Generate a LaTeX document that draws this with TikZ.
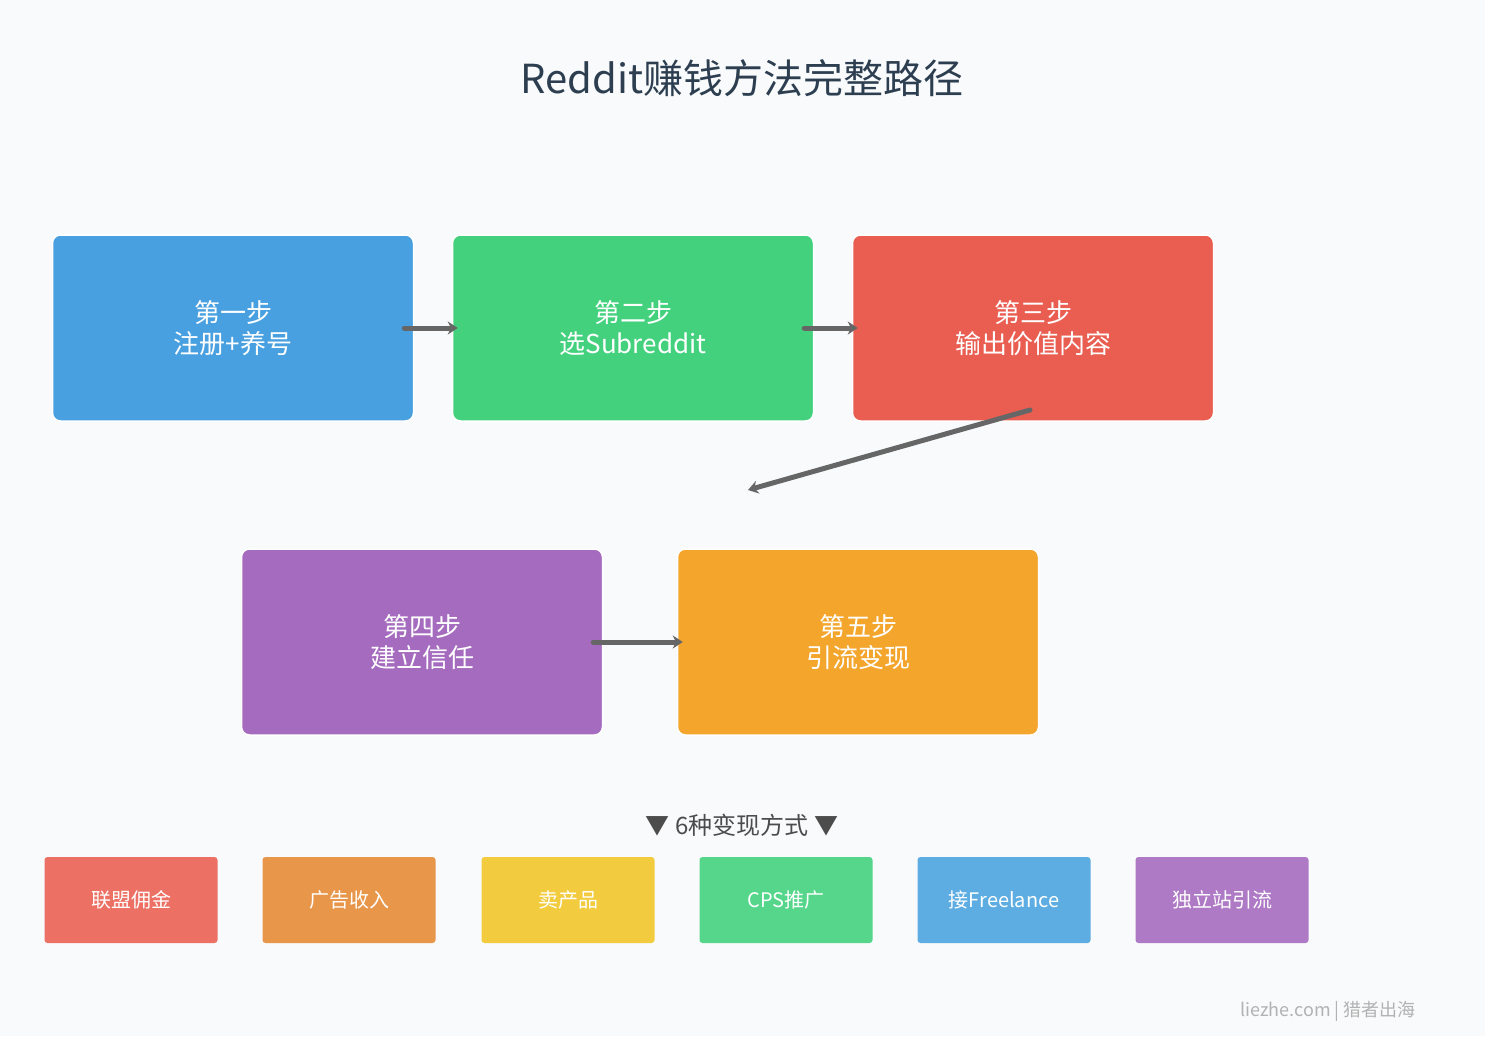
\documentclass[tikz,border=0pt]{standalone}
\usepackage{fontspec}
\setmainfont{Noto Sans CJK SC}
\usetikzlibrary{arrows.meta}
\definecolor{bg}{HTML}{F8FAFB}
\definecolor{c1}{HTML}{48A0E0}
\definecolor{c2}{HTML}{44D17E}
\definecolor{c3}{HTML}{EA5E51}
\definecolor{c4}{HTML}{A56BBE}
\definecolor{c5}{HTML}{F3A52C}
\definecolor{s1}{HTML}{EC7063}
\definecolor{s2}{HTML}{E8964A}
\definecolor{s3}{HTML}{F2CC3E}
\definecolor{s4}{HTML}{55D68A}
\definecolor{s5}{HTML}{5DADE2}
\definecolor{s6}{HTML}{AF7AC5}
\definecolor{ttl}{HTML}{2C3E50}
\begin{document}
\begin{tikzpicture}[x=1pt,y=-1pt,
 big/.style={draw=white,line width=1.5pt,rounded corners=8pt,minimum width=361pt,minimum height=186pt,text=white,font=\fontsize{26}{31}\selectfont,align=center},
 small/.style={rounded corners=3pt,minimum width=173pt,minimum height=86pt,text=white,font=\fontsize{20}{22}\selectfont},
 arr/.style={draw=black!60,line width=5pt,line cap=round,-{Stealth[length=10pt,width=13pt]}}]
\fill[bg] (0,0) rectangle (1485,1036);
\node[text=ttl,font=\fontsize{40}{46}\selectfont] (title) at (742,78) {Reddit赚钱方法完整路径};
\node[big,fill=c1] (b1) at (233,328) {第一步\\注册+养号};
\node[big,fill=c2] (b2) at (633,328) {第二步\\选Subreddit};
\node[big,fill=c3] (b3) at (1033,328) {第三步\\输出价值内容};
\node[big,fill=c4] (b4) at (422,642) {第四步\\建立信任};
\node[big,fill=c5] (b5) at (858,642) {第五步\\引流变现};
\coordinate (a3s) at (1030,410);
\coordinate (a3e) at (748,490);
\draw[arr] (b1.east)++(-10,0) -- ([xshift=6pt]b2.west);
\draw[arr] (b2.east)++(-10,0) -- ([xshift=6pt]b3.west);
\draw[arr] (a3s) -- (a3e);
\draw[arr] (b4.east)++(-10,0) -- ([xshift=6pt]b5.west);
\node[text=black!70,font=\fontsize{24}{28}\selectfont] (sub) at (742,825) {▼ 6种变现方式 ▼};
\node[small,fill=s1] (m1) at (131,900) {联盟佣金};
\node[small,fill=s2] (m2) at (349,900) {广告收入};
\node[small,fill=s3] (m3) at (568,900) {卖产品};
\node[small,fill=s4] (m4) at (786,900) {CPS推广};
\node[small,fill=s5] (m5) at (1004,900) {接Freelance};
\node[small,fill=s6] (m6) at (1222,900) {独立站引流};
\node[text=black!30,font=\fontsize{18}{20}\selectfont] (foot) at (1328,1011) {liezhe.com | 猎者出海};
\end{tikzpicture}
\end{document}
